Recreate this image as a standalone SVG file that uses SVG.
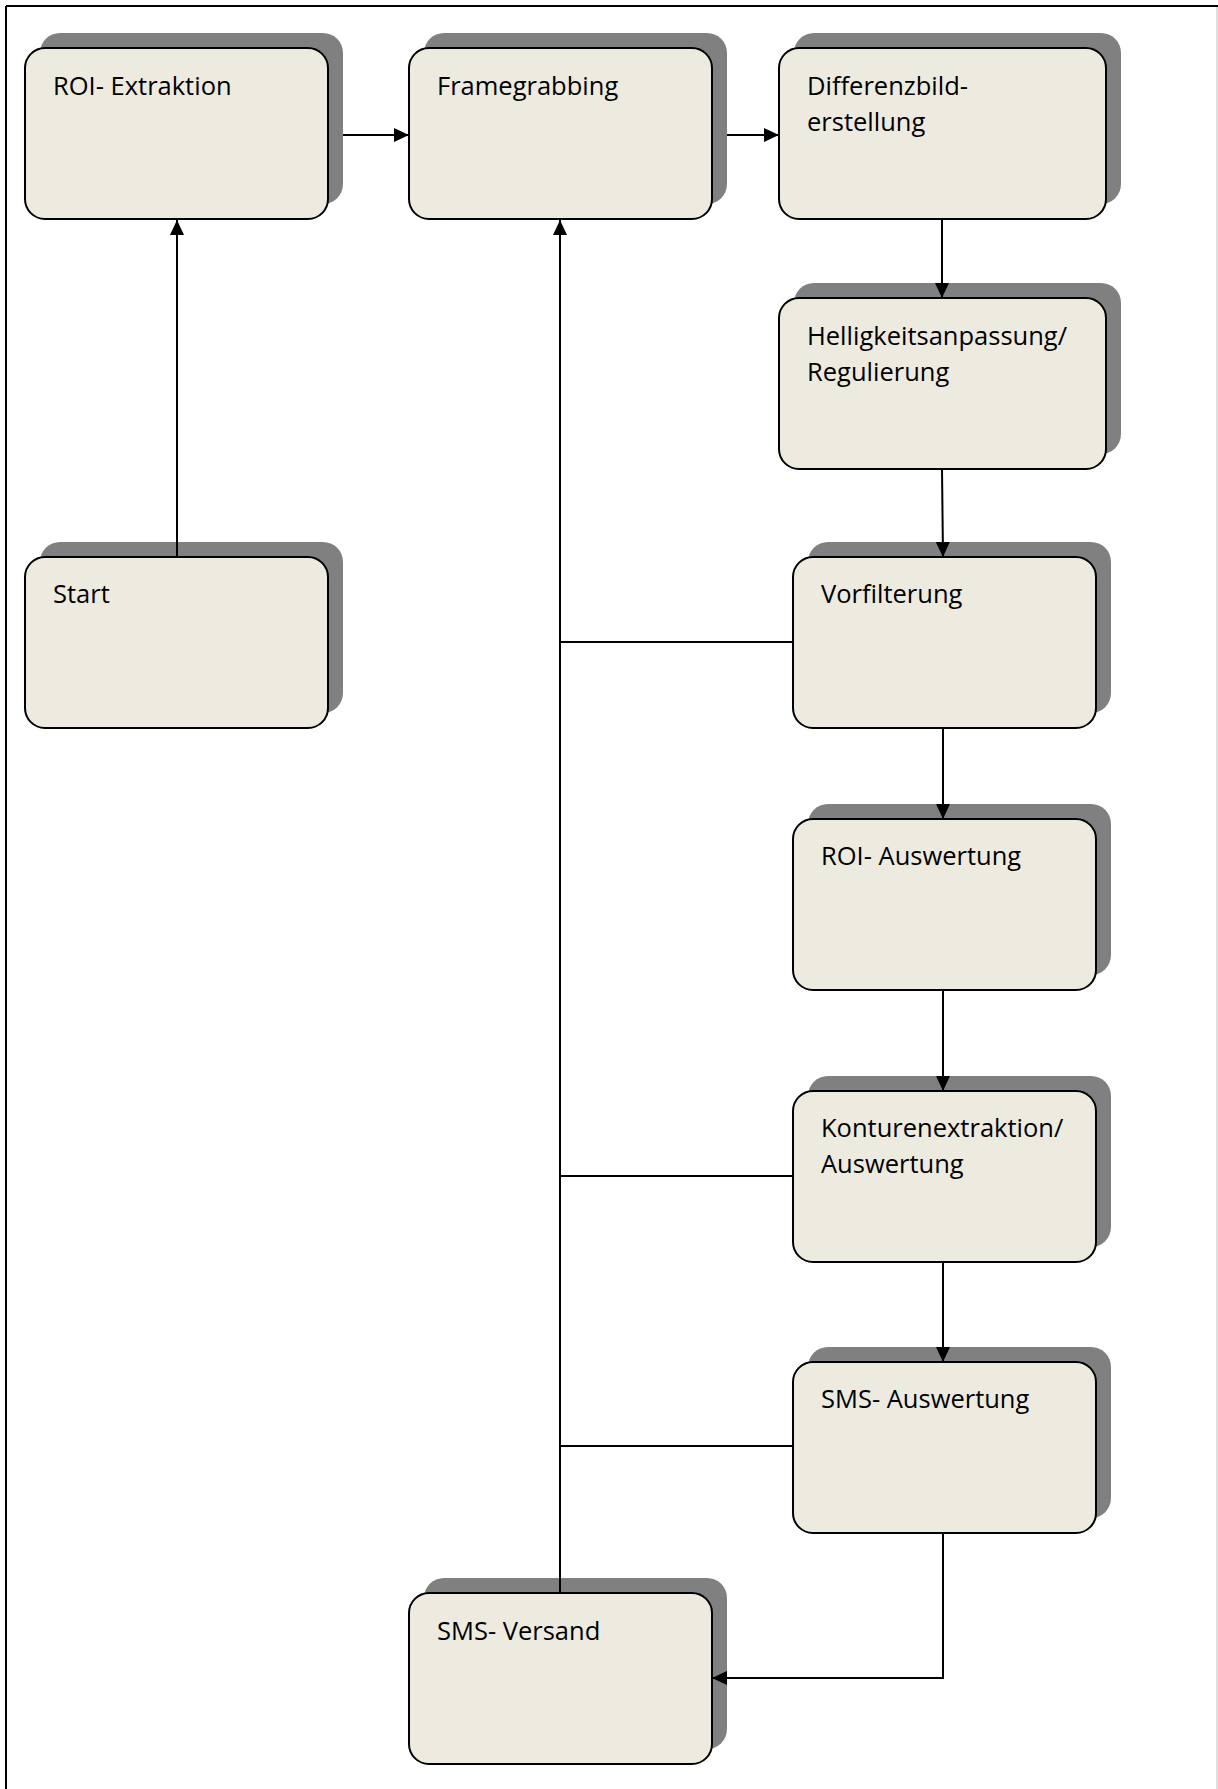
<svg xmlns="http://www.w3.org/2000/svg" width="1218" height="1789" viewBox="0 0 1218 1789">
<style>
.shadow{fill:#808080;}
.box{fill:#EDEBE0;stroke:#000;stroke-width:2;}
.lbl{font-family:"Open Sans","Liberation Sans",sans-serif;font-size:25.5px;fill:#000;}
.conn{fill:none;stroke:#000;stroke-width:2;}
.arr{fill:none;stroke:#000;stroke-width:2;marker-end:url(#ah);}
</style>
<defs>
<marker id="ah" viewBox="0 0 15 14" refX="15" refY="7" markerWidth="15" markerHeight="14" markerUnits="userSpaceOnUse" orient="auto">
<path d="M0,0 L15,7 L0,14 Z" fill="#000"/>
</marker>
</defs>
<rect width="1218" height="1789" fill="#fff"/>
<g id="frame">
<line x1="6" y1="6" x2="1218" y2="6" stroke="#000" stroke-width="2"/>
<line x1="6" y1="6" x2="6" y2="1789" stroke="#000" stroke-width="2"/>
<line x1="1217" y1="7" x2="1217" y2="1789" stroke="#d4d4d4" stroke-width="1.5"/>
</g>
<g id="n-roi-extraktion">
<rect class="shadow" x="40" y="33" width="303" height="171" rx="20"/>
<rect class="box" x="25" y="48" width="303" height="171" rx="20"/>
<text class="lbl" x="53" y="95">ROI- Extraktion</text>
</g>
<g id="n-framegrabbing">
<rect class="shadow" x="424" y="33" width="303" height="171" rx="20"/>
<rect class="box" x="409" y="48" width="303" height="171" rx="20"/>
<text class="lbl" x="437" y="95">Framegrabbing</text>
</g>
<g id="n-differenzbild">
<rect class="shadow" x="794" y="33" width="327" height="171" rx="20"/>
<rect class="box" x="779" y="48" width="327" height="171" rx="20"/>
<text class="lbl" x="807" y="95">Differenzbild-</text>
<text class="lbl" x="807" y="131">erstellung</text>
</g>
<g id="n-helligkeit">
<rect class="shadow" x="794" y="283" width="327" height="171" rx="20"/>
<rect class="box" x="779" y="298" width="327" height="171" rx="20"/>
<text class="lbl" x="807" y="345">Helligkeitsanpassung/</text>
<text class="lbl" x="807" y="381">Regulierung</text>
</g>
<g id="n-start">
<rect class="shadow" x="40" y="542" width="303" height="171" rx="20"/>
<rect class="box" x="25" y="557" width="303" height="171" rx="20"/>
<text class="lbl" x="53" y="603">Start</text>
</g>
<g id="n-vorfilterung">
<rect class="shadow" x="808" y="542" width="303" height="171" rx="20"/>
<rect class="box" x="793" y="557" width="303" height="171" rx="20"/>
<text class="lbl" x="821" y="603">Vorfilterung</text>
</g>
<g id="n-roi-auswertung">
<rect class="shadow" x="808" y="804" width="303" height="171" rx="20"/>
<rect class="box" x="793" y="819" width="303" height="171" rx="20"/>
<text class="lbl" x="821" y="865">ROI- Auswertung</text>
</g>
<g id="n-konturen">
<rect class="shadow" x="808" y="1076" width="303" height="171" rx="20"/>
<rect class="box" x="793" y="1091" width="303" height="171" rx="20"/>
<text class="lbl" x="821" y="1137">Konturenextraktion/</text>
<text class="lbl" x="821" y="1173">Auswertung</text>
</g>
<g id="n-sms-auswertung">
<rect class="shadow" x="808" y="1347" width="303" height="171" rx="20"/>
<rect class="box" x="793" y="1362" width="303" height="171" rx="20"/>
<text class="lbl" x="821" y="1408">SMS- Auswertung</text>
</g>
<g id="n-sms-versand">
<rect class="shadow" x="424" y="1578" width="303" height="171" rx="20"/>
<rect class="box" x="409" y="1593" width="303" height="171" rx="20"/>
<text class="lbl" x="437" y="1640">SMS- Versand</text>
</g>
<g id="connectors">
<line class="arr" x1="177" y1="557" x2="177" y2="220"/>
<line class="arr" x1="343" y1="135" x2="409" y2="135"/>
<line class="arr" x1="727" y1="135" x2="779" y2="135"/>
<line class="arr" x1="942" y1="219" x2="942" y2="298"/>
<line class="arr" x1="942" y1="469" x2="943" y2="557"/>
<line class="arr" x1="943" y1="728" x2="943" y2="819"/>
<line class="arr" x1="943" y1="990" x2="943" y2="1091"/>
<line class="arr" x1="943" y1="1262" x2="943" y2="1362"/>
<polyline class="arr" points="943,1533 943,1678 712,1678"/>
<line class="arr" x1="560" y1="1593" x2="560" y2="220"/>
<line class="conn" x1="560" y1="642" x2="793" y2="642"/>
<line class="conn" x1="560" y1="1176" x2="793" y2="1176"/>
<line class="conn" x1="560" y1="1446" x2="793" y2="1446"/>
</g>
</svg>
